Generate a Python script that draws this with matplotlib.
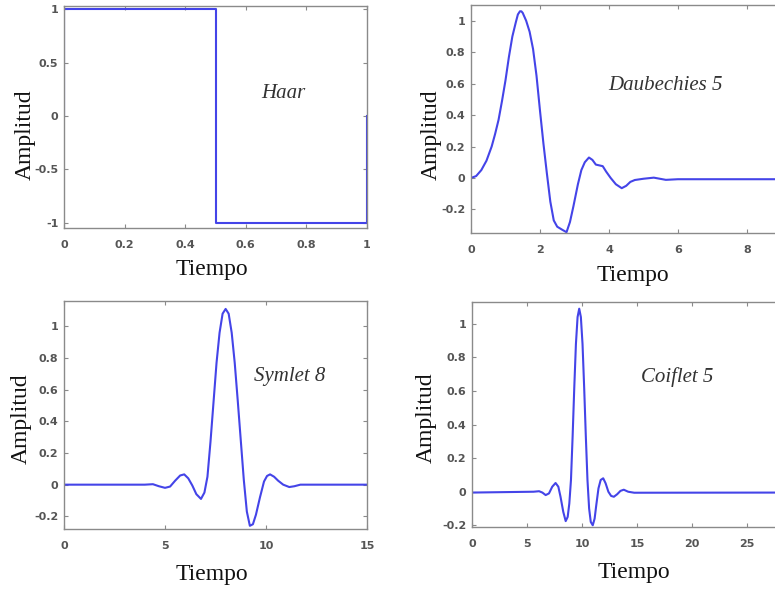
import matplotlib
matplotlib.use("Agg")
import matplotlib.pyplot as plt

# -------------------------------------------------------------
# Data
# -------------------------------------------------------------
haar_t = [0, 0, 0.5, 0.5, 1, 1]
haar_a = [0, 1, 1, -1, -1, 0]

db5_t = [0, 0.15, 0.3, 0.45, 0.6, 0.7, 0.8, 0.9, 1.0, 1.1, 1.2, 1.3, 1.36, 1.42, 1.46, 1.5,
         1.6, 1.7, 1.8, 1.9, 2.0, 2.1, 2.2, 2.3, 2.4, 2.5, 2.65, 2.77, 2.87, 2.97, 3.1, 3.2,
         3.3, 3.42, 3.52, 3.62, 3.72, 3.82, 3.92, 4.05, 4.2, 4.37, 4.5, 4.62, 4.75, 5.0, 5.3,
         5.65, 6.0, 9.0]
db5_a = [0.0, 0.012, 0.05, 0.11, 0.2, 0.28, 0.37, 0.49, 0.62, 0.77, 0.9, 0.99, 1.04, 1.06,
         1.06, 1.05, 1.0, 0.93, 0.82, 0.65, 0.43, 0.22, 0.03, -0.15, -0.27, -0.31, -0.33,
         -0.345, -0.28, -0.18, -0.04, 0.05, 0.1, 0.13, 0.115, 0.085, 0.08, 0.075, 0.04, 0.0,
         -0.04, -0.065, -0.05, -0.025, -0.013, -0.005, 0.002, -0.012, -0.008, -0.008]

sym8_t = [0, 4.0, 4.4, 4.7, 5.0, 5.25, 5.5, 5.75, 5.95, 6.15, 6.35, 6.55, 6.78, 6.95, 7.1,
          7.25, 7.4, 7.55, 7.7, 7.85, 8.0, 8.15, 8.3, 8.45, 8.6, 8.75, 8.9, 9.05, 9.2, 9.35,
          9.5, 9.7, 9.9, 10.05, 10.2, 10.4, 10.6, 10.85, 11.15, 11.4, 11.7, 15]
sym8_a = [0, 0, 0.003, -0.01, -0.02, -0.012, 0.025, 0.058, 0.065, 0.04, -0.005, -0.06, -0.09,
          -0.05, 0.05, 0.27, 0.52, 0.77, 0.96, 1.08, 1.11, 1.08, 0.96, 0.77, 0.53, 0.28, 0.03,
          -0.17, -0.26, -0.25, -0.19, -0.08, 0.02, 0.055, 0.065, 0.05, 0.025, 0.0, -0.015,
          -0.01, 0, 0]

coif5_t = [0, 5.6, 6.1, 6.4, 6.7, 7.0, 7.3, 7.6, 7.85, 8.05, 8.3, 8.52, 8.7, 8.85, 9.0,
           9.15, 9.3, 9.45, 9.6, 9.75, 9.9, 10.05, 10.2, 10.35, 10.5, 10.65, 10.8, 10.98,
           11.15, 11.3, 11.5, 11.7, 11.93, 12.15, 12.4, 12.65, 12.9, 13.2, 13.5, 13.8, 14.2,
           14.75, 29]
coif5_a = [-0.005, 0, 0.003, -0.005, -0.02, -0.01, 0.03, 0.052, 0.03, -0.03, -0.12, -0.175,
           -0.15, -0.07, 0.07, 0.33, 0.62, 0.88, 1.04, 1.09, 1.04, 0.88, 0.62, 0.33, 0.07,
           -0.1, -0.18, -0.2, -0.16, -0.08, 0.02, 0.07, 0.08, 0.05, 0.0, -0.025, -0.03,
           -0.015, 0.005, 0.012, 0.0, -0.006, -0.005]

names = ["Haar", "Daubechies 5", "Symlet 8", "Coiflet 5"]

xticks = [[0, 0.2, 0.4, 0.6, 0.8, 1], [0, 2, 4, 6, 8], [0, 5, 10, 15], [0, 5, 10, 15, 20, 25]]
xticklabels = [["0", "0.2", "0.4", "0.6", "0.8", "1"], ["0", "2", "4", "6", "8"],
               ["0", "5", "10", "15"], ["0", "5", "10", "15", "20", "25"]]
yticks = [[-1, -0.5, 0, 0.5, 1],
          [-0.2, 0, 0.2, 0.4, 0.6, 0.8, 1],
          [-0.2, 0, 0.2, 0.4, 0.6, 0.8, 1],
          [-0.2, 0, 0.2, 0.4, 0.6, 0.8, 1]]
yticklabels = [["-1", "-0.5", "0", "0.5", "1"],
               ["-0.2", "0", "0.2", "0.4", "0.6", "0.8", "1"],
               ["-0.2", "0", "0.2", "0.4", "0.6", "0.8", "1"],
               ["-0.2", "0", "0.2", "0.4", "0.6", "0.8", "1"]]


def make_figure():
    series = [(haar_t, haar_a), (db5_t, db5_a), (sym8_t, sym8_a), (coif5_t, coif5_a)]

    # axes boxes in figure fraction (right column runs off the page, as in the scan)
    boxes = [[0.0826, 0.6136, 0.391, 0.376],
             [0.6077, 0.6051, 0.4006, 0.3864],
             [0.0826, 0.1034, 0.391, 0.3864],
             [0.609, 0.1068, 0.4116, 0.3814]]
    xlims = [(0, 1), (0, 9), (0, 15), (0, 29)]
    ylims = [(-1.05, 1.03), (-0.35, 1.1), (-0.28, 1.16), (-0.21, 1.13)]

    # label / text placement in axes coords
    name_xy = [(0.723, 0.608), (0.628, 0.649), (0.746, 0.667), (0.643, 0.667)]
    ylab_xy = [(-0.092, 0.419), (-0.093, 0.43), (-0.106, 0.482), (-0.110, 0.484)]
    xlab_xy = [(0.488, -0.14), (0.522, -0.14), (0.488, -0.154), (0.508, -0.156)]

    serif = ["Liberation Serif", "DejaVu Serif"]
    spine_col = "#8a8a8a"
    tick_col = "#555555"
    line_col = "#4444e8"

    fig = plt.figure(figsize=(7.75, 5.9), dpi=100)

    for i, (t, a) in enumerate(series):
        ax = fig.add_axes(boxes[i])
        ax.plot(t, a, color=line_col, linewidth=1.5, solid_joinstyle="round")
        ax.set_xlim(*xlims[i])
        ax.set_ylim(*ylims[i])

        ax.set_xticks(xticks[i])
        ax.set_xticklabels(xticklabels[i])
        ax.set_yticks(yticks[i])
        ax.set_yticklabels(yticklabels[i])

        # MATLAB-like box: inward ticks on all four sides
        ax.tick_params(direction="in", length=3, width=0.8, color=spine_col,
                       top=True, right=True, labelsize=8, labelcolor=tick_col)
        ax.tick_params(axis="x", pad=9)
        ax.tick_params(axis="y", pad=4)
        for lab in ax.get_xticklabels() + ax.get_yticklabels():
            lab.set_fontweight("bold")
        for s in ax.spines.values():
            s.set_color(spine_col)
            s.set_linewidth(1.0)

        ax.set_ylabel("Amplitud", fontsize=17, family=serif, color="#111111")
        ax.yaxis.set_label_coords(*ylab_xy[i])
        ax.set_xlabel("Tiempo", fontsize=17, family=serif, color="#111111")
        ax.xaxis.set_label_coords(*xlab_xy[i])

        ax.text(name_xy[i][0], name_xy[i][1], names[i], transform=ax.transAxes,
                ha="center", va="center", fontsize=15, style="italic",
                family=serif, color="#333333")

    fig.savefig("out.png", dpi=100, facecolor="white")


if __name__ == "__main__":
    make_figure()
